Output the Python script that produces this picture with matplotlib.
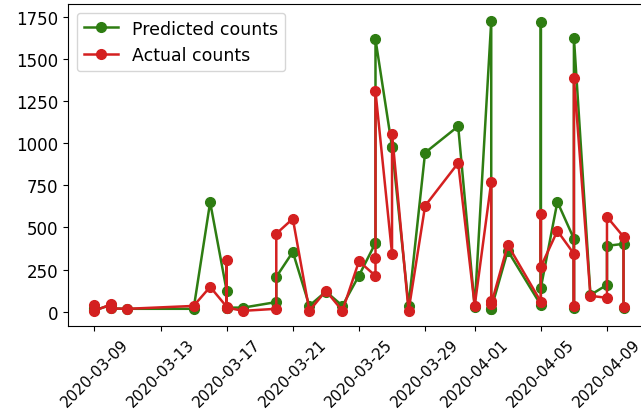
import pandas as pd
import matplotlib
matplotlib.use("Agg")
import matplotlib.pyplot as plt
import matplotlib.dates as mdates

# one row per record, several records can share a date
dates = ["2020-03-09", "2020-03-09", "2020-03-10", "2020-03-10", "2020-03-11",
         "2020-03-15", "2020-03-16", "2020-03-17", "2020-03-17", "2020-03-17",
         "2020-03-18", "2020-03-20", "2020-03-20", "2020-03-21", "2020-03-22",
         "2020-03-23", "2020-03-24", "2020-03-25", "2020-03-26", "2020-03-26",
         "2020-03-26", "2020-03-27", "2020-03-27", "2020-03-28", "2020-03-29",
         "2020-03-31", "2020-04-01", "2020-04-02", "2020-04-02", "2020-04-02",
         "2020-04-03", "2020-04-05", "2020-04-05", "2020-04-05", "2020-04-06",
         "2020-04-07", "2020-04-07", "2020-04-07", "2020-04-08", "2020-04-09",
         "2020-04-09", "2020-04-10", "2020-04-10"]
predicted = [20, 10, 40, 20, 18,
             18, 650, 124, 25, 25,
             25, 58, 207, 355, 36,
             120, 36, 215, 408, 408,
             1615, 977, 977, 36, 943,
             1100, 30, 1725, 18, 18,
             362, 40, 1720, 142, 652,
             433, 20, 1625, 100, 160,
             391, 403, 20]
actual = [38, 5, 45, 20, 18,
          35, 148, 30, 305, 25,
          6, 18, 463, 552, 6,
          125, 6, 300, 213, 320,
          1306, 344, 1056, 6, 628,
          882, 36, 770, 65, 45,
          397, 60, 581, 267, 480,
          344, 36, 1388, 95, 83,
          563, 445, 30]

df = pd.DataFrame({"date": pd.to_datetime(dates),
                   "predicted": predicted, "actual": actual})

fig = plt.figure(figsize=(6.41, 4.10), dpi=100)
ax = fig.add_axes([0.106, 0.202, 0.908, 0.786])

ax.plot(df["date"], df["predicted"], "-o", color="#2e7d12", lw=1.8, ms=7,
        label="Predicted counts")
ax.plot(df["date"], df["actual"], "-o", color="#d42020", lw=1.8, ms=7,
        label="Actual counts")

ax.set_ylim(-85, 1825)
ax.set_yticks(range(0, 1751, 250))
ax.xaxis.set_major_locator(mdates.DayLocator(bymonthday=range(1, 32, 4)))
ax.xaxis.set_major_formatter(mdates.DateFormatter("%Y-%m-%d"))
plt.setp(ax.get_xticklabels(), rotation=45, ha="center")
ax.tick_params(axis="x", labelsize=11)
ax.tick_params(axis="y", labelsize=12)

ax.legend(loc="upper left", fontsize=12.5)

fig.savefig("out.png")
